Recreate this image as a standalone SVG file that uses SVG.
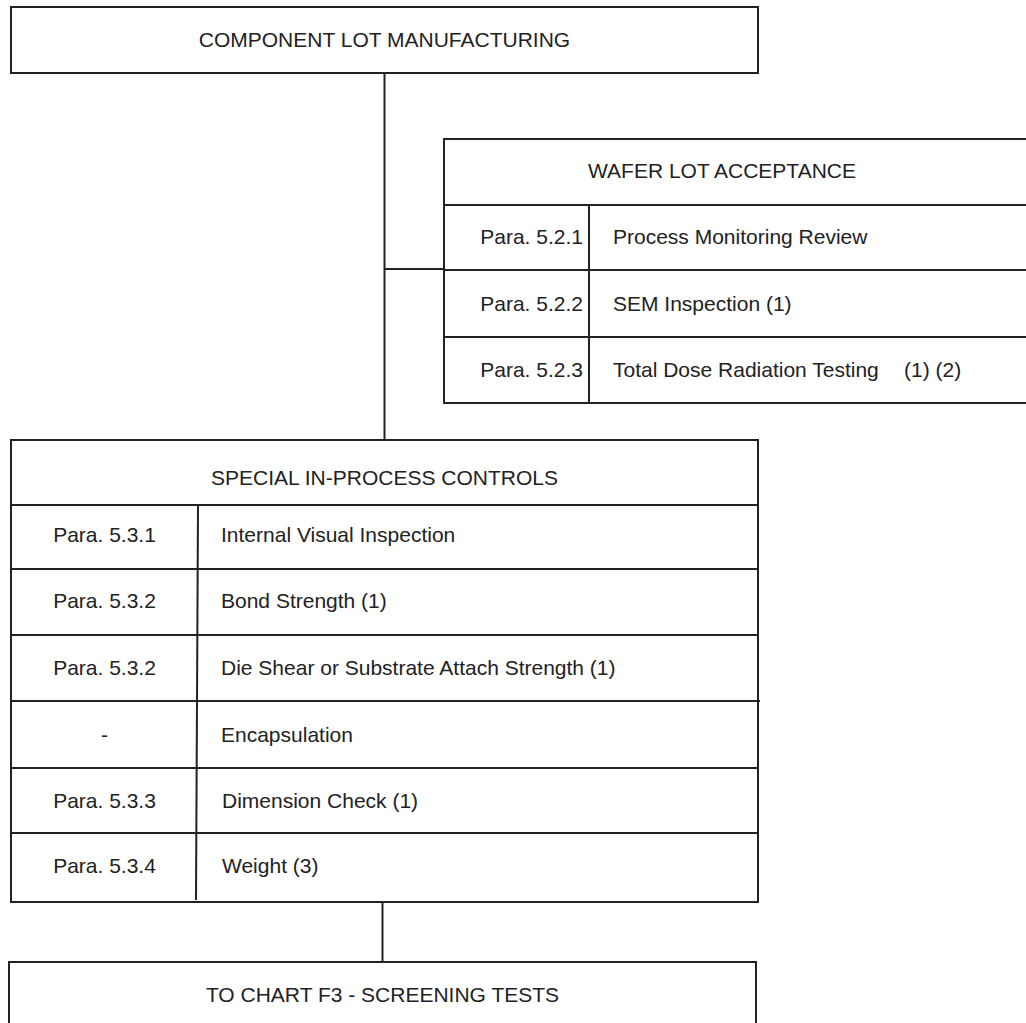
<svg xmlns="http://www.w3.org/2000/svg" width="1026" height="1023" viewBox="0 0 1026 1023">
<style>
.box{fill:#fff;stroke:#222;stroke-width:2}
.ln{stroke:#222;stroke-width:2;fill:none}
text{font-family:"Liberation Sans",Arial,sans-serif;font-size:21px;fill:#222}
.c{text-anchor:middle}
.e{text-anchor:end}
</style>
<rect width="1026" height="1023" fill="#fff"/>
<g id="connectors">
<line class="ln" x1="384.5" y1="73" x2="384.5" y2="440"/>
<line class="ln" x1="384.5" y1="269" x2="444" y2="269"/>
<line class="ln" x1="382.5" y1="902" x2="382.5" y2="962"/>
</g>
<g id="component-lot-manufacturing">
<rect class="box" x="11" y="7" width="747" height="66"/>
<text class="c" x="384.5" y="47">COMPONENT LOT MANUFACTURING</text>
</g>
<g id="wafer-lot-acceptance">
<rect class="box" x="444" y="139" width="590" height="264"/>
<line class="ln" x1="444" y1="205" x2="1026" y2="205"/>
<line class="ln" x1="444" y1="270" x2="1026" y2="270"/>
<line class="ln" x1="444" y1="337" x2="1026" y2="337"/>
<line class="ln" x1="589" y1="205" x2="589" y2="403"/>
<text class="c" x="722" y="178">WAFER LOT ACCEPTANCE</text>
<text class="e" x="583" y="244">Para. 5.2.1</text>
<text x="613" y="244">Process Monitoring Review</text>
<text class="e" x="583" y="311">Para. 5.2.2</text>
<text x="613" y="311">SEM Inspection (1)</text>
<text class="e" x="583" y="377">Para. 5.2.3</text>
<text x="613" y="377">Total Dose Radiation Testing<tspan x="904">(1) (2)</tspan></text>
</g>
<g id="special-in-process-controls">
<rect class="box" x="11" y="440" width="747" height="462"/>
<line class="ln" x1="11" y1="505" x2="758" y2="505"/>
<line class="ln" x1="11" y1="569" x2="758" y2="569"/>
<line class="ln" x1="11" y1="635" x2="758" y2="635"/>
<line class="ln" x1="11" y1="701" x2="760" y2="701"/>
<line class="ln" x1="11" y1="768" x2="758" y2="768"/>
<line class="ln" x1="11" y1="833" x2="758" y2="833"/>
<line class="ln" x1="198" y1="505" x2="196" y2="900"/>
<text class="c" x="384.5" y="485">SPECIAL IN-PROCESS CONTROLS</text>
<text class="c" x="104.5" y="542">Para. 5.3.1</text>
<text x="221" y="542">Internal Visual Inspection</text>
<text class="c" x="104.5" y="608">Para. 5.3.2</text>
<text x="221" y="608">Bond Strength (1)</text>
<text class="c" x="104.5" y="675">Para. 5.3.2</text>
<text x="221" y="675">Die Shear or Substrate Attach Strength (1)</text>
<text class="c" x="104.5" y="742">-</text>
<text x="221" y="742">Encapsulation</text>
<text class="c" x="104.5" y="808">Para. 5.3.3</text>
<text x="222" y="808">Dimension Check (1)</text>
<text class="c" x="104.5" y="873">Para. 5.3.4</text>
<text x="222" y="873">Weight (3)</text>
</g>
<g id="to-chart-f3">
<rect class="box" x="9" y="962" width="747" height="70"/>
<text class="c" x="382.5" y="1002">TO CHART F3 - SCREENING TESTS</text>
</g>
</svg>
